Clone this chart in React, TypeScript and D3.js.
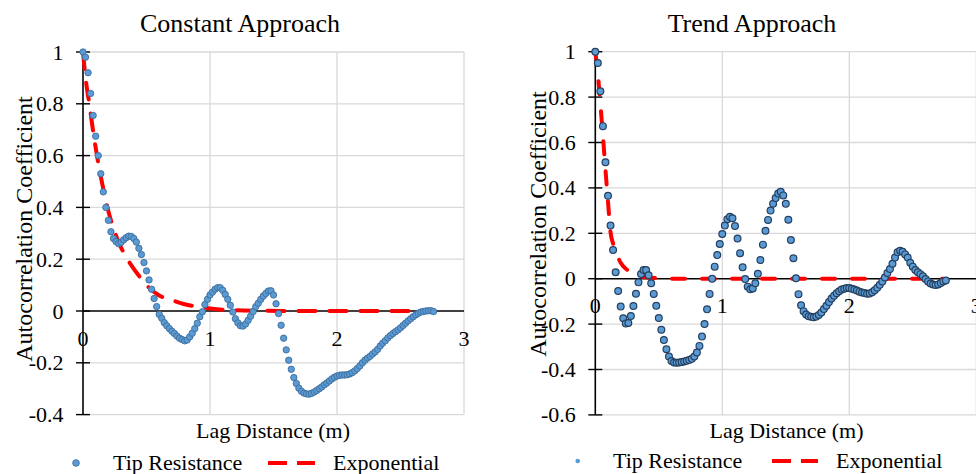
import React from 'react';
import * as d3 from 'd3';

// ---- data ----
const LAG_STEP = 0.02; // sampling interval of the lag distance (m)

const constantTip = [
  1.0, 0.98, 0.92, 0.84, 0.755, 0.675, 0.6, 0.53, 0.46, 0.4,
  0.35, 0.306, 0.28, 0.268, 0.26, 0.265, 0.275, 0.283, 0.289, 0.288,
  0.28, 0.266, 0.242, 0.218, 0.187, 0.155, 0.12, 0.084, 0.048, 0.017,
  -0.013, -0.028, -0.045, -0.057, -0.068, -0.078, -0.087, -0.097, -0.105, -0.11,
  -0.115, -0.112, -0.1, -0.086, -0.068, -0.047, -0.022, -0.003, 0.025, 0.045,
  0.062, 0.073, 0.084, 0.09, 0.09, 0.08, 0.064, 0.045, 0.022, -0.004,
  -0.03, -0.046, -0.057, -0.058, -0.05, -0.036, -0.02, -0.002, 0.017, 0.03,
  0.045, 0.058, 0.068, 0.077, 0.078, 0.062, 0.028, -0.01, -0.055, -0.105,
  -0.15, -0.19, -0.225, -0.257, -0.28, -0.298, -0.31, -0.317, -0.32, -0.321,
  -0.318, -0.313, -0.307, -0.3, -0.293, -0.285, -0.278, -0.27, -0.262, -0.256,
  -0.251, -0.248, -0.247, -0.247, -0.246, -0.243, -0.238, -0.231, -0.222, -0.212,
  -0.2, -0.19, -0.182, -0.175, -0.166, -0.158, -0.148, -0.135, -0.124, -0.115,
  -0.104, -0.095, -0.087, -0.08, -0.073, -0.065, -0.056, -0.047, -0.038, -0.03,
  -0.022, -0.015, -0.009, -0.004, -0.002, 0.0, 0.001, 0.001, -0.002,
];

const trendTip = [
  1.0, 0.95, 0.826, 0.672, 0.513, 0.365, 0.234, 0.126, 0.028, -0.054,
  -0.123, -0.174, -0.197, -0.195, -0.164, -0.12, -0.066, -0.016, 0.021, 0.038,
  0.038, 0.015, -0.02, -0.067, -0.119, -0.173, -0.225, -0.27, -0.311, -0.343,
  -0.363, -0.369, -0.37, -0.369, -0.367, -0.365, -0.362, -0.358, -0.353, -0.343,
  -0.325, -0.296, -0.255, -0.2, -0.135, -0.067, 0.0, 0.053, 0.104, 0.153,
  0.197, 0.234, 0.262, 0.273, 0.266, 0.232, 0.177, 0.112, 0.05, -0.001,
  -0.035, -0.047, -0.043, -0.02, 0.022, 0.082, 0.15, 0.211, 0.259, 0.3,
  0.33, 0.355, 0.375, 0.383, 0.367, 0.33, 0.26, 0.17, 0.09, 0.002,
  -0.068, -0.117, -0.143, -0.158, -0.165, -0.168, -0.17, -0.167, -0.16, -0.149,
  -0.134, -0.119, -0.103, -0.087, -0.075, -0.064, -0.055, -0.048, -0.044, -0.041,
  -0.041, -0.044, -0.048, -0.052, -0.057, -0.061, -0.063, -0.066, -0.065, -0.06,
  -0.051, -0.04, -0.027, -0.012, 0.005, 0.025, 0.043, 0.066, 0.093, 0.116,
  0.123, 0.119, 0.107, 0.093, 0.07, 0.053, 0.038, 0.028, 0.02, 0.011,
  -0.001, -0.012, -0.021, -0.026, -0.028, -0.025, -0.019, -0.012, -0.008,
];

const constantExpLag = [0, 0.025, 0.05, 0.075, 0.1, 0.15, 0.2, 0.25, 0.3, 0.35, 0.4, 0.45, 0.5, 0.6, 0.7, 0.8, 0.9, 1.0, 1.1, 1.2, 1.4, 1.6, 2.0, 2.4, 2.76];
const constantExp = [1.0, 0.88, 0.8, 0.71, 0.63, 0.495, 0.385, 0.305, 0.245, 0.2, 0.163, 0.13, 0.1, 0.06, 0.042, 0.026, 0.017, 0.01, 0.005, 0.003, 0.001, 0, 0, 0, 0];

const trendExpLag = [0, 0.02, 0.04, 0.06, 0.08, 0.1, 0.12, 0.14, 0.16, 0.18, 0.2, 0.22, 0.26, 0.3, 0.35, 0.4, 0.5, 0.6, 1.0, 2.0, 2.74];
const trendExp = [1.0, 0.9, 0.77, 0.63, 0.48, 0.34, 0.205, 0.155, 0.12, 0.093, 0.07, 0.055, 0.035, 0.018, 0.01, 0.006, 0.002, 0, 0, 0, 0];

const xTicks = [0, 1, 2, 3];
const constantYTicks = [-0.4, -0.2, 0, 0.2, 0.4, 0.6, 0.8, 1];
const trendYTicks = [-0.6, -0.4, -0.2, 0, 0.2, 0.4, 0.6, 0.8, 1];

const panelTitles = ['Constant Approach', 'Trend Approach'];
const xAxisTitle = 'Lag Distance (m)';
const yAxisTitle = 'Autocorrelation Coefficient';
const legendLabels = ['Tip Resistance', 'Exponential'];

// ---- styles ----
const FONT = '"Liberation Serif", "Times New Roman", Tinos, "DejaVu Serif", serif';
const DOT_FILL = '#5b9bd5';
const GRID = '#d9d9d9';
const RED = '#ff0000';

type Layout = {
  xRange: [number, number];
  yRange: [number, number];
  yDomain: [number, number];
  titleX: number;
  xTitleX: number;
  yTitleX: number;
  yTitleY: number;
  dotR: number;
  dotStroke: string;
  dotStrokeW: number;
  dash: string;
  legend: { markerX: number; markerR: number; markerStroke: string; textX: number; dashX1: number; dashX2: number; expTextX: number; y: number };
};

const layouts: Layout[] = [
  {
    xRange: [83, 464],
    yRange: [414.6, 52],
    yDomain: [-0.4, 1],
    titleX: 240,
    xTitleX: 273,
    yTitleX: 31.5,
    yTitleY: 229,
    dotR: 3.2,
    dotStroke: '#3d6d9a',
    dotStrokeW: 0.9,
    dash: '17 14',
    legend: { markerX: 76, markerR: 3.3, markerStroke: '#3d6d9a', textX: 113, dashX1: 268, dashX2: 315, expTextX: 333, y: 463 },
  },
  {
    xRange: [595.3, 976.3],
    yRange: [414.9, 51.7],
    yDomain: [-0.6, 1],
    titleX: 752,
    xTitleX: 786.5,
    yTitleX: 546,
    yTitleY: 224,
    dotR: 3.4,
    dotStroke: '#243f5f',
    dotStrokeW: 1.2,
    dash: '13 17',
    legend: { markerX: 577.7, markerR: 2.3, markerStroke: 'none', textX: 613, dashX1: 772, dashX2: 818, expTextX: 836, y: 461 },
  },
];

const fmt = (v: number) => String(+v.toFixed(1));

const textStyle = { fontFamily: FONT } as React.CSSProperties;

function Panel({ layout, title, tip, expLag, exp, yTicks }: { layout: Layout; title: string; tip: number[]; expLag: number[]; exp: number[]; yTicks: number[] }) {
  const x = d3.scaleLinear().domain([0, 3]).range(layout.xRange);
  const y = d3.scaleLinear().domain(layout.yDomain).range(layout.yRange);
  const [x0, x1] = layout.xRange;
  const yTop = y(layout.yDomain[1]);
  const yBot = y(layout.yDomain[0]);
  const y0 = y(0);
  const expLine = d3
    .line<number>()
    .x((_, i) => x(expLag[i]))
    .y((d) => y(d))
    .curve(d3.curveMonotoneX)(exp) as string;
  const L = layout.legend;
  return (
    <g>
      {/* gridlines */}
      {yTicks.filter((t) => t !== 0).map((t) => (
        <line key={'h' + t} x1={x0} x2={x1} y1={y(t)} y2={y(t)} stroke={GRID} strokeWidth={1.3} />
      ))}
      {xTicks.filter((t) => t !== 0).map((t) => (
        <line key={'v' + t} x1={x(t)} x2={x(t)} y1={yTop} y2={yBot} stroke={GRID} strokeWidth={1.3} />
      ))}
      {/* axes */}
      <line x1={x0} x2={x1} y1={y0} y2={y0} stroke="#000" strokeWidth={1.4} />
      <line x1={x0} x2={x0} y1={yTop} y2={yBot} stroke="#000" strokeWidth={1.6} />
      {yTicks.map((t) => (
        <line key={'t' + t} x1={x0 - 7} x2={x0 + 7} y1={y(t)} y2={y(t)} stroke="#000" strokeWidth={1.4} />
      ))}
      {/* tick labels */}
      {yTicks.map((t) => (
        <text key={'yl' + t} x={x0 - 19.5} y={y(t) + 7.5} textAnchor="end" fontSize={22} style={textStyle} fill="#000">
          {fmt(t)}
        </text>
      ))}
      {xTicks.map((t) => (
        <text key={'xl' + t} x={x(t)} y={y0 + 34.5} textAnchor="middle" fontSize={22} style={textStyle} fill="#000">
          {fmt(t)}
        </text>
      ))}
      {/* series */}
      <path d={expLine} fill="none" stroke={RED} strokeWidth={4} strokeDasharray={layout.dash} strokeLinecap="round" />
      {tip.map((v, i) => (
        <circle key={'c' + i} cx={x(i * LAG_STEP)} cy={y(v)} r={layout.dotR} fill={DOT_FILL} stroke={layout.dotStroke} strokeWidth={layout.dotStrokeW} />
      ))}
      {/* titles */}
      <text x={layout.titleX} y={32} textAnchor="middle" fontSize={26} style={textStyle} fill="#000">
        {title}
      </text>
      <text x={layout.xTitleX} y={438} textAnchor="middle" fontSize={22} style={textStyle} fill="#000">
        {xAxisTitle}
      </text>
      <text
        transform={`translate(${layout.yTitleX},${layout.yTitleY}) rotate(-90)`}
        textAnchor="middle"
        fontSize={24}
        style={textStyle}
        fill="#000"
      >
        {yAxisTitle}
      </text>
      {/* legend */}
      <circle cx={L.markerX} cy={L.y} r={L.markerR} fill={DOT_FILL} stroke={L.markerStroke} strokeWidth={0.9} />
      <text x={L.textX} y={L.y + 7} fontSize={22} style={textStyle} fill="#000">
        {legendLabels[0]}
      </text>
      <line x1={L.dashX1} x2={L.dashX2} y1={L.y} y2={L.y} stroke={RED} strokeWidth={4} strokeDasharray="19 10" />
      <text x={L.expTextX} y={L.y + 7} fontSize={22} style={textStyle} fill="#000">
        {legendLabels[1]}
      </text>
    </g>
  );
}

export default function App() {
  return (
    <svg
      width={976}
      height={474}
      style={{ position: 'absolute', left: 0, top: 0, background: '#fff' }}
    >
      <rect x={0} y={0} width={976} height={474} fill="#fff" />
      <Panel layout={layouts[0]} title={panelTitles[0]} tip={constantTip} expLag={constantExpLag} exp={constantExp} yTicks={constantYTicks} />
      <Panel layout={layouts[1]} title={panelTitles[1]} tip={trendTip} expLag={trendExpLag} exp={trendExp} yTicks={trendYTicks} />
    </svg>
  );
}
